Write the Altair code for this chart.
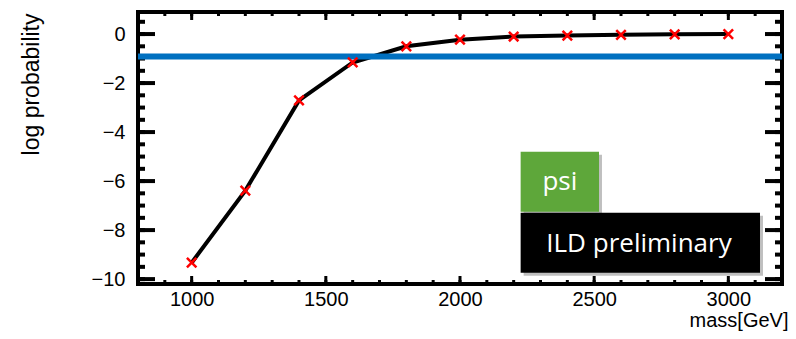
import altair as alt
import pandas as pd

# ---- data ----
mass = [1000, 1200, 1400, 1600, 1800, 2000, 2200, 2400, 2600, 2800, 3000]
logp = [-9.33, -6.39, -2.71, -1.16, -0.50, -0.23, -0.10, -0.06, -0.03, -0.01, 0.0]
threshold = [-0.92]

x_tick_labels = [1000, 1500, 2000, 2500, 3000]
x_minor = [800 + 100 * i for i in range(25)]
y_tick_labels = [-10, -8, -6, -4, -2, 0]
y_minor = [-10 + 0.5 * i for i in range(22)]

box_text = ["psi", "ILD preliminary"]
box_x0 = [2226, 2226]
box_x1 = [2518, 3118]
box_y0 = [-4.80, -7.29]
box_y1 = [-7.25, -9.74]
box_color = ["#5EA73A", "#000000"]
text_x = [2372, 2667]
text_y = [-6.05, -8.55]

W, H = 644, 272
X_DOMAIN = [800, 3200]
Y_DOMAIN = [-10.2, 0.9]
FONT = "Liberation Sans"

xscale = alt.Scale(domain=X_DOMAIN, nice=False, zero=False)
yscale = alt.Scale(domain=Y_DOMAIN, nice=False, zero=False)

xaxis = alt.Axis(values=x_tick_labels, ticks=False, domain=False, grid=False,
                 labelPadding=5, labelFontSize=20, labelFont=FONT, labelColor="black",
                 title="mass[GeV]", titleFont=FONT, titleFontSize=20, titleFontWeight="normal",
                 titleColor="black", titleX=650, titleY=42, titleAlign="right",
                 titleBaseline="alphabetic", format="d")
yaxis = alt.Axis(values=y_tick_labels, ticks=False, domain=False, grid=False,
                 labelPadding=13, labelFontSize=20, labelFont=FONT, labelColor="black",
                 title="log probability", titleFont=FONT, titleFontSize=23,
                 titleFontWeight="normal", titleColor="black", titleX=-100, titleY=1,
                 titleAngle=-90, titleAlign="right", titleBaseline="alphabetic", format="d")


def X(field):
    return alt.X(f"{field}:Q", scale=xscale, axis=xaxis, title="mass[GeV]")


def Y(field):
    return alt.Y(f"{field}:Q", scale=yscale, axis=yaxis, title="log probability")


df = pd.DataFrame({"mass": mass, "logp": logp})
df_thr = pd.DataFrame({"thr": threshold})
df_box = pd.DataFrame({"x0": box_x0, "x1": box_x1, "y0": box_y0, "y1": box_y1,
                       "c": box_color})
df_txt = pd.DataFrame({"tx": text_x, "ty": text_y, "t": box_text})
df_ymaj = pd.DataFrame({"v": y_tick_labels})
df_ymin = pd.DataFrame({"v": y_minor})
df_xmaj = pd.DataFrame({"v": x_tick_labels})
df_xmin = pd.DataFrame({"v": x_minor})

layers = []

# tick marks (inward)
for d, length, sw in [(df_ymin, 7, 4), (df_ymaj, 17, 4)]:
    layers.append(alt.Chart(d).mark_rule(color="black", strokeWidth=sw).encode(
        y=Y("v"), x=alt.value(0), x2=alt.value(length)))
    layers.append(alt.Chart(d).mark_rule(color="black", strokeWidth=sw).encode(
        y=Y("v"), x=alt.value(W - length), x2=alt.value(W)))
for d, length, sw in [(df_xmin, 4, 3), (df_xmaj, 8, 3)]:
    layers.append(alt.Chart(d).mark_rule(color="black", strokeWidth=sw).encode(
        x=X("v"), y=alt.value(0), y2=alt.value(length)))
    layers.append(alt.Chart(d).mark_rule(color="black", strokeWidth=sw).encode(
        x=X("v"), y=alt.value(H - length), y2=alt.value(H)))

# curve
layers.append(alt.Chart(df).mark_line(color="black", strokeWidth=4).encode(
    x=X("mass"), y=Y("logp")))
# threshold line
layers.append(alt.Chart(df_thr).mark_rule(color="#0070C0", strokeWidth=6).encode(
    y=Y("thr")))
# markers
layers.append(alt.Chart(df).mark_point(
    shape="M-1,-1L1,1M-1,1L1,-1", size=90, filled=False, color="#FF0000",
    strokeWidth=2.5, opacity=1).encode(x=X("mass"), y=Y("logp")))

# annotation boxes with shadow
layers.append(alt.Chart(df_box).mark_rect(
    color="#000000", opacity=0.25, xOffset=3, x2Offset=3, yOffset=3, y2Offset=3).encode(
    x=X("x0"), x2="x1", y=Y("y0"), y2="y1"))
layers.append(alt.Chart(df_box).mark_rect().encode(
    x=X("x0"), x2="x1", y=Y("y0"), y2="y1",
    color=alt.Color("c:N", scale=None)))
layers.append(alt.Chart(df_txt).mark_text(
    font="Open Sans", fontSize=26, color="white", align="center", baseline="middle").encode(
    x=X("tx"), y=Y("ty"), text="t:N"))

chart = alt.layer(*layers).properties(
    width=W, height=H,
    autosize=alt.AutoSizeParams(type="none"),
    padding={"left": 130, "top": 4, "right": 6, "bottom": 47},
    background="white",
).configure_view(stroke="black", strokeWidth=4)

chart.save("out.html", embed_options={"renderer": "svg", "actions": False})
